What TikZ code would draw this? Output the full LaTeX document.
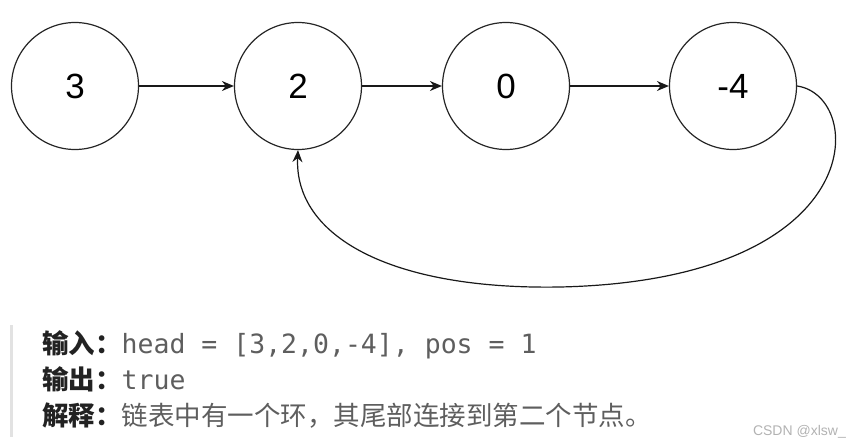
\documentclass[tikz,border=0pt]{standalone}
\usepackage{fontspec}
\setmainfont{Liberation Sans}
\newfontfamily\cjk{Noto Sans CJK SC}
\newfontfamily\monof{DejaVu Sans Mono}
\usetikzlibrary{arrows.meta}
\definecolor{txtgrey}{HTML}{5E5E5E}
\definecolor{lblblack}{HTML}{222222}
\definecolor{bargrey}{HTML}{E2E2E2}
\begin{document}
\begin{tikzpicture}[x=1pt,y=-1pt,
  listnode/.style={circle,draw=black!85,line width=1.2pt,minimum size=127pt,inner sep=0pt,font=\fontsize{35}{40}\selectfont},
  link/.style={draw=black!90,line width=1.2pt,-{Stealth[length=12pt,width=10pt]}},
  linetext/.style={anchor=base west,inner sep=0pt,font=\fontsize{26.5}{30}\selectfont}]
\useasboundingbox (0,0) rectangle (858,444);
\node[listnode] (n3) at (75,86) {3};
\node[listnode] (n2) at (298,86) {2};
\node[listnode] (n0) at (506,86) {0};
\node[listnode] (n4) at (733,86) {-4};
\draw[link] (n3) -- (n2);
\draw[link] (n2) -- (n0);
\draw[link] (n0) -- (n4);
\coordinate (low) at (560,287);
\draw[link] (n4.east) .. controls (866,96) and (872,280) .. (low) .. controls (390,290) and (294,236) .. (n2.south);
\fill[bargrey] (10,325) rectangle (13,437);
\node[linetext] (l1) at (42,353) {\cjk\bfseries\color{lblblack}输入：\monof\mdseries\color{txtgrey}head = [3,2,0,-4], pos = 1};
\node[linetext] (l2) at (42,389) {\cjk\bfseries\color{lblblack}输出：\monof\mdseries\color{txtgrey}true};
\node[linetext] (l3) at (42,425) {\cjk\bfseries\color{lblblack}解释：\mdseries\color{txtgrey}链表中有一个环，其尾部连接到第二个节点。};
\node[anchor=base east,inner sep=0pt,text=black!30,font=\fontsize{14}{16}\selectfont] (wm) at (846,435) {CSDN @xlsw\_};
\end{tikzpicture}
\end{document}
